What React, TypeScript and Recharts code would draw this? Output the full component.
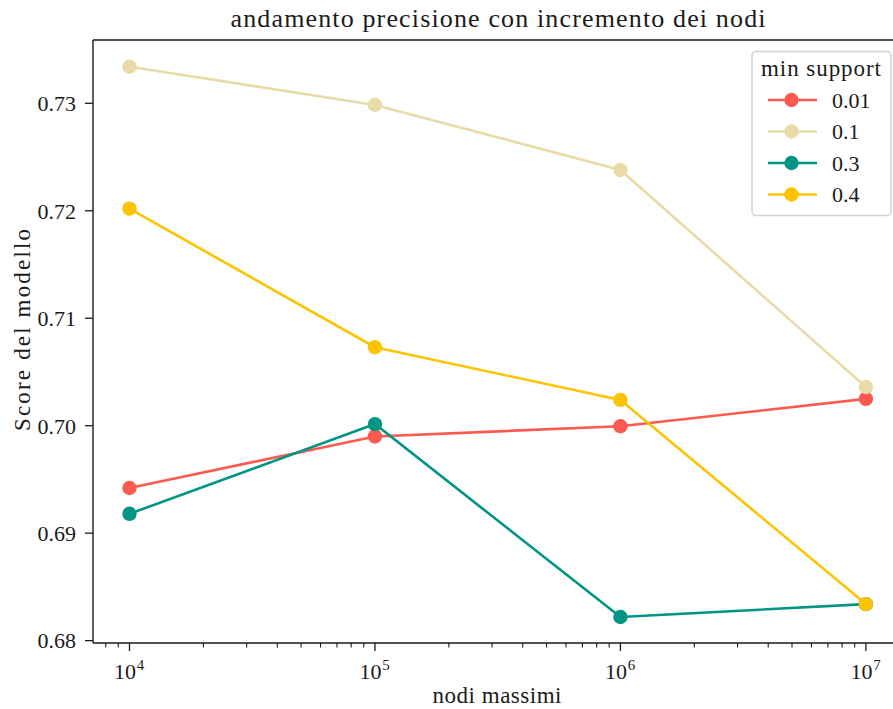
import React from "react";
import { LineChart, Line, XAxis, YAxis, ReferenceLine } from "recharts";

const xNodes = [1e4, 1e5, 1e6, 1e7];
const seriesNames = ["0.01", "0.1", "0.3", "0.4"];
const score001 = [0.6942, 0.699, 0.69995, 0.7025];
const score01 = [0.7334, 0.72985, 0.7238, 0.7036];
const score03 = [0.6918, 0.70015, 0.6822, 0.6834];
const score04 = [0.7202, 0.7073, 0.7024, 0.6834];
const colors = ["#fd5a4f", "#e8dba8", "#009484", "#fdc300"];

const yTicks = [0.68, 0.69, 0.7, 0.71, 0.72, 0.73];
const majorX = [1e4, 1e5, 1e6, 1e7];
const minorX = [
  8e3, 9e3,
  2e4, 3e4, 4e4, 5e4, 6e4, 7e4, 8e4, 9e4,
  2e5, 3e5, 4e5, 5e5, 6e5, 7e5, 8e5, 9e5,
  2e6, 3e6, 4e6, 5e6, 6e6, 7e6, 8e6, 9e6,
];

const FONT = "'Liberation Serif', 'DejaVu Serif', serif";
const INK = "#1a1a1a";

const data = xNodes.map((x, i) => ({
  x,
  s0: score001[i],
  s1: score01[i],
  s2: score03[i],
  s3: score04[i],
}));

const XTick = (props: any) => {
  const { x, y, payload } = props;
  const v = payload.value;
  if (!majorX.includes(v)) {
    return <line x1={x} x2={x} y1={y} y2={y + 4.5} stroke={INK} strokeWidth={1.1} />;
  }
  const exp = Math.round(Math.log10(v));
  return (
    <g>
      <line x1={x} x2={x} y1={y} y2={y + 8} stroke={INK} strokeWidth={1.3} />
      <text x={x - 4.5} y={y + 35.5} textAnchor="middle" fontFamily={FONT} fontSize={22} fill={INK}>
        10
      </text>
      <text x={x + 11} y={y + 27} textAnchor="middle" fontFamily={FONT} fontSize={15} fill={INK}>
        {exp}
      </text>
    </g>
  );
};

// title, axis labels and legend drawn over the chart
const Overlay = () => {
  const rows = [100, 131.5, 163, 194.5];
  return (
    <svg
      width={893}
      height={709}
      style={{ position: "absolute", left: 0, top: 0, pointerEvents: "none" }}
      fontFamily={FONT}
      fill={INK}
    >
      <text x={498} y={27} textAnchor="middle" fontSize={26} textLength={535} lengthAdjust="spacing">
        andamento precisione con incremento dei nodi
      </text>
      <text x={497} y={703} textAnchor="middle" fontSize={23} textLength={129} lengthAdjust="spacing">
        nodi massimi
      </text>
      <text
        x={0}
        y={0}
        transform="translate(30,330) rotate(-90)"
        textAnchor="middle"
        fontSize={23}
        textLength={202}
        lengthAdjust="spacing"
      >
        Score del modello
      </text>
      <rect x={752} y={51.5} width={139} height={164} rx={4} fill="#fff" fillOpacity={0.85} stroke="#d4d4d4" strokeWidth={1.6} />
      <text x={821} y={76} textAnchor="middle" fontSize={23} textLength={120} lengthAdjust="spacing">
        min support
      </text>
      {seriesNames.map((name, i) => (
        <g key={name}>
          <line x1={768} x2={817} y1={rows[i]} y2={rows[i]} stroke={colors[i]} strokeWidth={2.6} />
          <circle cx={791.5} cy={rows[i]} r={7.2} fill={colors[i]} />
          <text x={832} y={rows[i] + 7.5} fontSize={22}>
            {name}
          </text>
        </g>
      ))}
    </svg>
  );
};

const App: React.FC = () => {
  const keys = ["s0", "s1", "s2", "s3"];
  return (
    <div
      style={{
        position: "absolute",
        left: 0,
        top: 0,
        width: 893,
        height: 709,
        overflow: "hidden",
        background: "#fff",
      }}
    >
      <LineChart
        width={901}
        height={709}
        data={data}
        margin={{ top: 40, right: 0, left: 0, bottom: 0 }}
      >
        <XAxis
          dataKey="x"
          type="number"
          scale="log"
          domain={[7100, 13900000]}
          allowDataOverflow
          ticks={[...minorX, ...majorX].sort((a, b) => a - b)}
          interval={0}
          tick={<XTick />}
          tickLine={false}
          tickSize={0}
          tickMargin={0}
          height={66}
          axisLine={{ stroke: INK, strokeWidth: 1.4 }}
        />
        <YAxis
          type="number"
          domain={[0.67978, 0.73589]}
          allowDataOverflow
          ticks={yTicks}
          width={93}
          tickFormatter={(v: number) => v.toFixed(2)}
          tick={{ fontFamily: FONT, fontSize: 22, fill: INK }}
          tickSize={8}
          tickMargin={9}
          tickLine={{ stroke: INK, strokeWidth: 1.3 }}
          axisLine={{ stroke: INK, strokeWidth: 1.4 }}
        />
        <ReferenceLine y={0.73589} stroke={INK} strokeWidth={1.4} ifOverflow="visible" />
        {keys.map((k, i) => (
          <Line
            key={k}
            dataKey={k}
            name={seriesNames[i]}
            stroke={colors[i]}
            strokeWidth={2.6}
            dot={{ r: 7.2, fill: colors[i], stroke: "none" }}
            activeDot={false}
            isAnimationActive={false}
          />
        ))}
      </LineChart>
      <Overlay />
    </div>
  );
};

export default App;
